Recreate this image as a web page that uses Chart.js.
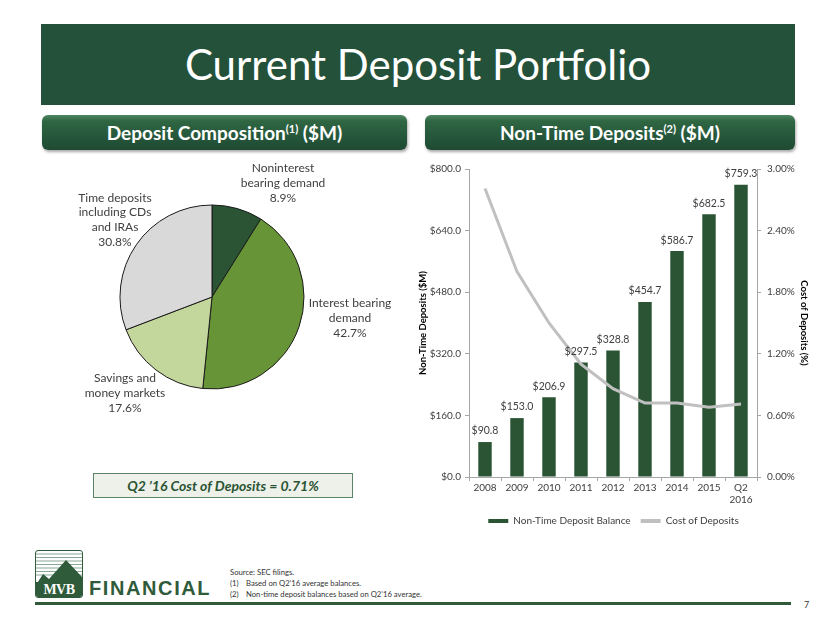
<!DOCTYPE html>
<html>
<head>
<meta charset="utf-8">
<script src="https://cdn.jsdelivr.net/npm/chart.js@4.4.1/dist/chart.umd.min.js"></script>
<style>
  html, body { margin: 0; padding: 0; background: #fff; }
  body { width: 830px; height: 623px; position: relative; overflow: hidden; font-family: Lato, "Open Sans", sans-serif; }
  .abs { position: absolute; }
  #banner { left: 41px; top: 24px; width: 754px; height: 81px; background: #24513a; color: #fff;
            font-size: 42px; text-align: center; line-height: 81px; }
  .sub { top: 115px; height: 35px; border-radius: 6px; color: #fff; font-weight: bold; font-size: 19px;
         text-align: center; line-height: 35px;
         background: linear-gradient(#4c8560 0%, #2f6642 18%, #24543a 70%, #1f4a32 100%);
         box-shadow: 1px 2px 3px rgba(0,0,0,.35); }
  .sub sup { font-size: 11px; font-weight: bold; vertical-align: 7px; line-height: 0; }
  #costBox { left: 93px; top: 473px; width: 258px; height: 23px; border: 1.5px solid #5b8466; background: #eef1ea;
             color: #2a5434; font-style: italic; font-weight: bold; font-size: 14px; text-align: center; line-height: 23px; }
  #notes { left: 230px; top: 567px; font-size: 7.7px; color: #333; line-height: 11px; }
  #notes span { display: inline-block; width: 16px; }
  #rule { left: 35px; top: 602px; width: 756px; height: 3px; background: #2f5b3a; }
  #page { left: 804px; top: 599px; font-size: 9px; color: #333; }
  #mark { left: 35px; top: 550px; width: 46px; height: 46px; border: 1.5px solid #2f5b3a; border-radius: 3px; overflow: hidden; background: #fff; }
  #mvb { left: 0; bottom: 0; width: 46px; height: 15px; background: #2f5b3a; color: #fff; font-family: "Liberation Serif", serif;
         font-weight: bold; font-size: 14px; line-height: 16px; text-align: center; letter-spacing: -0.5px; }
  #fin { left: 89px; top: 577px; font-family: "Liberation Sans", Arial, sans-serif; font-weight: bold; font-size: 20px;
         color: #2f5b3a; letter-spacing: 1.6px; }
</style>
</head>
<body>
<div id="banner" class="abs">Current Deposit Portfolio</div>
<div class="sub abs" style="left:42px;width:365px;">Deposit Composition<sup>(1)</sup> ($M)</div>
<div class="sub abs" style="left:425px;width:370px;">Non-Time Deposits<sup>(2)</sup> ($M)</div>

<canvas id="pie" class="abs" style="left:40px;top:155px;" width="370" height="285"></canvas>
<canvas id="bars" class="abs" style="left:410px;top:150px;" width="420" height="386"></canvas>

<div id="costBox" class="abs">Q2 ’16 Cost of Deposits = 0.71%</div>

<div id="mark" class="abs">
  <svg width="46" height="46" style="position:absolute;left:0;top:0">
    <g stroke="#8aa896" stroke-width="1.2">
      <line x1="0" y1="3" x2="46" y2="3"/><line x1="0" y1="6.5" x2="46" y2="6.5"/>
      <line x1="0" y1="10" x2="46" y2="10"/><line x1="0" y1="13.5" x2="46" y2="13.5"/>
      <line x1="0" y1="17" x2="46" y2="17"/><line x1="0" y1="20.5" x2="46" y2="20.5"/>
      <line x1="0" y1="24" x2="46" y2="24"/>
    </g>
    <polygon points="0,34 7,23 13,28 30,9 46,26 46,34" fill="#2f5b3a"/>
  </svg>
  <div id="mvb" class="abs">MVB</div>
</div>
<div id="fin" class="abs">FINANCIAL</div>

<div id="notes" class="abs">
  Source: SEC filings.<br>
  <span>(1)</span>Based on Q2’16 average balances.<br>
  <span>(2)</span>Non-time deposit balances based on Q2’16 average.
</div>
<div id="rule" class="abs"></div>
<div id="page" class="abs">7</div>

<script>
// Composicao dos depositos
const pieNames = [["Noninterest", "bearing demand"], ["Interest bearing", "demand"], ["Savings and", "money markets"], ["Time deposits", "including CDs", "and IRAs"]];
const pieShares = [8.9, 42.7, 17.6, 30.8];
const pieColors = ["#2a5434", "#679436", "#c3d69b", "#d9d9d9"];

// Depositos nao a prazo
const years = ["2008", "2009", "2010", "2011", "2012", "2013", "2014", "2015", ["Q2", "2016"]];
const balances = [90.8, 153.0, 206.9, 297.5, 328.8, 454.7, 586.7, 682.5, 759.3];
const costPct = [2.81, 2.00, 1.50, 1.10, 0.86, 0.72, 0.72, 0.68, 0.71];

Chart.defaults.font.family = "Lato, 'Open Sans', sans-serif";
Chart.defaults.color = "#595959";

// offsets dos rotulos da pizza em relacao ao centro
const pieLabelPos = [[71, -114], [138, 21], [-87, 96], [-97, -77]];

const pieLabels = {
  id: "pieLabels",
  afterDatasetsDraw(chart) {
    const arc = chart.getDatasetMeta(0).data[0];
    const c = chart.ctx;
    c.save();
    c.font = "12px Lato, sans-serif";
    c.fillStyle = "#404040";
    c.textAlign = "center";
    c.textBaseline = "middle";
    pieNames.forEach((name, i) => {
      const lines = [...name, pieShares[i].toFixed(1) + "%"];
      const lh = 14.8;
      const y0 = arc.y + pieLabelPos[i][1] - (lines.length - 1) * lh / 2;
      lines.forEach((t, k) => c.fillText(t, arc.x + pieLabelPos[i][0], y0 + k * lh));
    });
    c.restore();
  }
};

new Chart(document.getElementById("pie"), {
  type: "pie",
  data: {
    labels: pieNames.map((n) => n.join(" ")),
    datasets: [{ data: pieShares, backgroundColor: pieColors, borderColor: "#1a1a1a", borderWidth: 1, hoverOffset: 0 }]
  },
  options: {
    responsive: false,
    animation: false,
    radius: 92,
    layout: { padding: { right: 26, bottom: 1 } },
    plugins: { legend: { display: false }, tooltip: { enabled: false } }
  },
  plugins: [pieLabels]
});

const barLabels = {
  id: "barLabels",
  afterDatasetsDraw(chart) {
    const meta = chart.getDatasetMeta(1);
    const c = chart.ctx;
    c.save();
    c.font = "10.5px Lato, sans-serif";
    c.fillStyle = "#404040";
    c.textAlign = "center";
    c.textBaseline = "middle";
    meta.data.forEach((bar, i) => c.fillText("$" + balances[i].toFixed(1), bar.x, bar.y - 11));
    c.restore();
  }
};

new Chart(document.getElementById("bars"), {
  data: {
    labels: years,
    datasets: [
      { type: "line", label: "Cost of Deposits", data: costPct, yAxisID: "y1", borderColor: "#c0c0c0",
        backgroundColor: "#c0c0c0", borderWidth: 3, pointRadius: 0, tension: 0, order: 0 },
      { type: "bar", label: "Non-Time Deposit Balance", data: balances, yAxisID: "y", backgroundColor: "#2a5434",
        borderWidth: 0, barPercentage: 0.42, categoryPercentage: 1, order: 1 }
    ]
  },
  options: {
    responsive: false,
    animation: false,
    layout: { padding: { top: 19, bottom: 0, left: 7, right: 20 } },
    scales: {
      x: {
        grid: { drawOnChartArea: false, tickLength: 4, color: "#a6a6a6" },
        border: { color: "#a6a6a6" },
        ticks: { font: { size: 10 }, color: "#404040", padding: 1, maxRotation: 0 },
        afterFit(s) { s.height = 29; }
      },
      y: {
        position: "left", min: 0, max: 800,
        grid: { drawOnChartArea: false, tickLength: 4, color: "#a6a6a6" },
        border: { color: "#a6a6a6" },
        ticks: { stepSize: 160, font: { size: 10 }, color: "#404040", padding: 4, callback: (v) => "$" + v.toFixed(1) },
        title: { display: true, text: "Non-Time Deposits ($M)", font: { size: 9.5, weight: "bold" }, color: "#000", padding: 0 },
        afterFit(s) { s.width = 52; }
      },
      y1: {
        position: "right", min: 0, max: 3,
        grid: { drawOnChartArea: false, tickLength: 4, color: "#a6a6a6" },
        border: { color: "#a6a6a6" },
        ticks: { stepSize: 0.6, font: { size: 10 }, color: "#404040", padding: 6, callback: (v) => v.toFixed(2) + "%" },
        title: { display: true, text: "Cost of Deposits (%)", font: { size: 9.5, weight: "bold" }, color: "#000", padding: 0 },
        afterFit(s) { s.width = 53; }
      }
    },
    plugins: {
      tooltip: { enabled: false },
      legend: {
        position: "bottom",
        reverse: true,
        labels: {
          boxWidth: 20, boxHeight: 4, font: { size: 10 }, color: "#404040", padding: 10,
          generateLabels(chart) {
            return chart.data.datasets.map((d, i) => ({
              text: d.label, fillStyle: d.backgroundColor, strokeStyle: d.backgroundColor, lineWidth: 0,
              hidden: false, datasetIndex: i, fontColor: "#404040"
            }));
          }
        }
      }
    }
  },
  plugins: [barLabels]
});
</script>
</body>
</html>
